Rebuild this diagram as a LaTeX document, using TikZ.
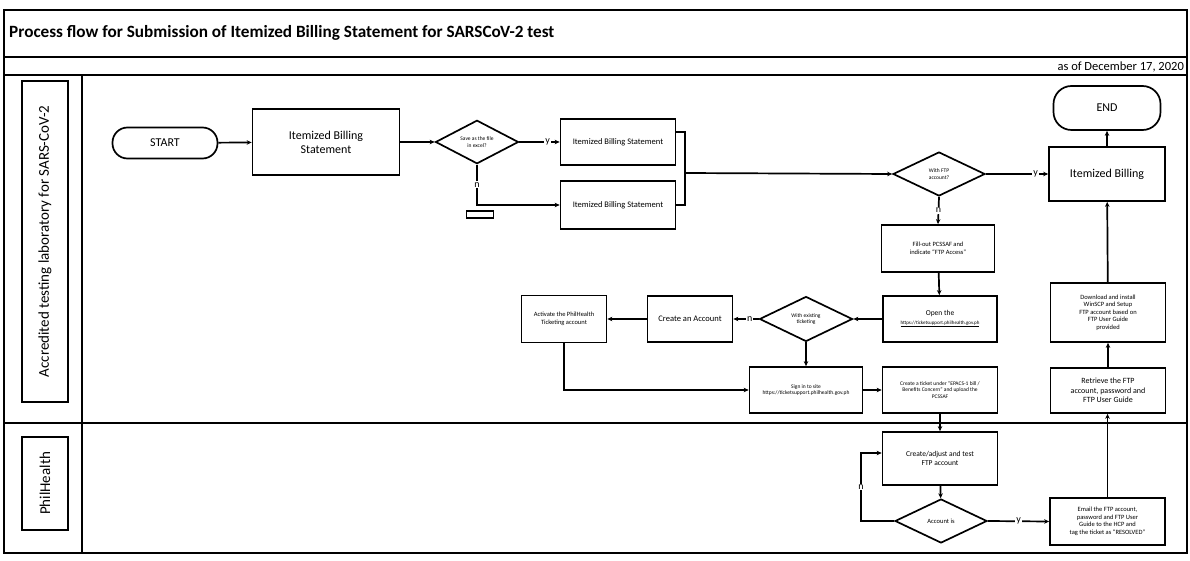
\documentclass[tikz,border=0pt]{standalone}
\usepackage{fontspec}
\setmainfont{Carlito}
\usetikzlibrary{shapes.geometric,arrows.meta}
\begin{document}
\begin{tikzpicture}[x=1pt,y=-1pt,
  frame/.style={line width=1.7pt},
  box/.style={draw,line width=1.7pt,align=center,inner sep=1pt,font=\fontsize{6.5}{7.5}\selectfont},
  dec/.style={draw,diamond,line width=1.7pt,align=center,inner sep=0pt,font=\fontsize{5.5}{6.5}\selectfont},
  term/.style={draw,line width=1.7pt,align=center,font=\fontsize{12}{14}\selectfont},
  flow/.style={line width=1.7pt,-{Stealth[length=5pt,width=4.5pt]}},
  plain/.style={line width=1.7pt},
  lbl/.style={fill=white,inner sep=1pt,font=\fontsize{10}{11}\selectfont},
  lane/.style={draw,line width=1.4pt,rotate=90,inner sep=0pt,font=\fontsize{15}{17}\selectfont}]
\useasboundingbox (0,0) rectangle (1190,561);
% frame
\draw[frame] (4,10) rectangle (1187,553);
\draw[frame] (4,57) -- (1187,57);
\draw[frame] (4,75) -- (1187,75);
\draw[frame] (82,75) -- (82,553);
\draw[frame] (4,423) -- (1187,423);
\node[anchor=west,inner sep=0pt,font=\fontsize{17.2}{19}\bfseries] (title) at (9,33) {Process flow for Submission of Itemized Billing Statement for SARSCoV-2 test};
\node[anchor=east,inner sep=0pt,font=\fontsize{12.5}{14}\selectfont] (date) at (1184,66.5) {as of December 17, 2020};
\node[lane,minimum width=321,minimum height=46] (lane1) at (45,241.5) {Accredited testing laboratory for SARS-CoV-2};
\node[lane,minimum width=93,minimum height=46] (lane2) at (45,483.5) {PhilHealth};
% nodes
\node[term,rounded corners=15pt,minimum width=105,minimum height=31] (start) at (165,143) {START};
\node[box,minimum width=147,minimum height=66,font=\fontsize{12}{14}\selectfont] (ibs) at (326,142) {Itemized Billing\\Statement};
\node[dec,minimum width=83,minimum height=43] (d1) at (477,142) {Save as the file\\in excel?};
\node[box,minimum width=115,minimum height=46,font=\fontsize{8.5}{9.5}\selectfont] (ib1) at (618,142) {Itemized Billing Statement};
\node[box,minimum width=115,minimum height=48,font=\fontsize{8.5}{9.5}\selectfont] (ib2) at (618,205) {Itemized Billing Statement};
\node[draw,line width=1.5pt,minimum width=27,minimum height=7,inner sep=0pt] (sr) at (480,214.5) {};
\coordinate (m) at (685,173);
\node[dec,minimum width=92,minimum height=44] (dftp) at (939,174) {With FTP\\account?};
\node[box,minimum width=116,minimum height=54,font=\fontsize{12}{14}\selectfont] (ib) at (1107,174) {Itemized Billing};
\node[term,rounded corners=18pt,minimum width=107,minimum height=44] (end) at (1107,108) {END};
\node[box,minimum width=113,minimum height=47] (fill) at (938,248.5) {Fill-out PCSSAF and\\indicate ``FTP Access''};
\node[box,minimum width=114,minimum height=46,font=\fontsize{7.5}{8.5}\selectfont] (open) at (940,319) {Open the\\{\fontsize{5}{6}\selectfont\underline{https://ticketsupport.philhealth.gov.ph}}};
\node[dec,minimum width=93,minimum height=45] (d2) at (806,319) {With existing\\ticketing};
\node[box,minimum width=85,minimum height=46,font=\fontsize{8.5}{10}\selectfont] (create) at (690,319) {Create an Account};
\node[box,minimum width=85,minimum height=47] (activate) at (564,319) {Activate the PhilHealth\\Ticketing account};
\node[box,minimum width=113,minimum height=46,font=\fontsize{5.5}{6.5}\selectfont] (signin) at (806,390) {Sign in to site\\https://ticketsupport.philhealth.gov.ph};
\node[box,minimum width=115,minimum height=46,font=\fontsize{5.5}{6.5}\selectfont] (ticket) at (940,390) {Create a ticket under ``EPACS-1 bill /\\Benefits Concern'' and upload the\\PCSSAF};
\node[box,minimum width=115,minimum height=59] (download) at (1108,312.5) {Download and install\\WinSCP and Setup\\FTP account based on\\FTP User Guide\\provided};
\node[box,minimum width=115,minimum height=45,font=\fontsize{8}{9.5}\selectfont] (retrieve) at (1108,390.5) {Retrieve the FTP\\account, password and\\FTP User Guide};
\node[box,minimum width=115,minimum height=53,font=\fontsize{7.5}{9}\selectfont] (adjust) at (940,458.5) {Create/adjust and test\\FTP account};
\node[dec,minimum width=92,minimum height=44,font=\fontsize{6.5}{7.5}\selectfont] (d3) at (941,521) {Account is};
\node[box,minimum width=115,minimum height=47] (email) at (1107.5,521.5) {Email the FTP account,\\password and FTP User\\Guide to the HCP and\\tag the ticket as ``RESOLVED''};
\coordinate (l1) at (861,521);
\coordinate (l2) at (861,453);
% connectors
\draw[flow] (start) -- (ibs);
\draw[flow] (ibs) -- (d1);
\draw[flow] (d1.east) -- node[lbl,pos=0.7]{y} (ib1.west);
\draw[flow] (d1.south) -- node[lbl]{n} (d1.south |- ib2.west) -- (ib2.west);
\draw[plain] ([yshift=10pt]ib1.east) -| (m);
\draw[plain] (ib2.east) -| (m);
\draw[flow] (m) -- (dftp.west);
\draw[flow] (dftp.east) -- node[lbl,pos=0.8]{y} (ib.west);
\draw[flow] (ib) -- (end);
\draw[flow] (dftp.south) -- node[lbl]{n} (fill.north);
\draw[flow] (fill) -- (open);
\draw[flow] (open.west) -- (d2.east);
\draw[flow] (d2.west) -- node[lbl,pos=0.35]{n} (create.east);
\draw[flow] (create) -- (activate);
\draw[flow] (activate.south) |- (signin.west);
\draw[flow] (d2.south) -- (signin.north);
\draw[flow] (signin) -- (ticket);
\draw[flow] (ticket) -- (adjust);
\draw[flow] (adjust) -- (d3);
\draw[flow] (d3.west) -- (l1) -- node[lbl]{n} (l2) -- (l2 -| adjust.west);
\draw[flow] (d3.east) -- node[lbl,pos=0.5]{y} (email.west);
\draw[flow] (email.north) -- (email.north |- retrieve.south);
\draw[flow] (retrieve) -- (download);
\draw[flow] (download) -- (ib);
\end{tikzpicture}
\end{document}
